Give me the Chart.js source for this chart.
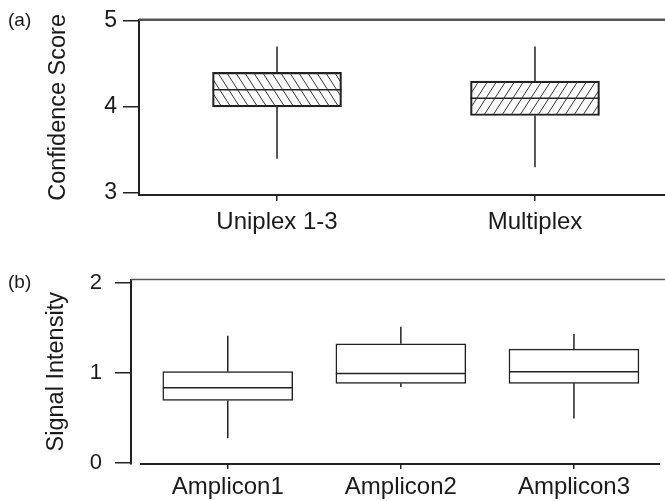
<!DOCTYPE html>
<html>
<head>
<meta charset="utf-8">
<script src="https://cdn.jsdelivr.net/npm/chart.js@4.4.1/dist/chart.umd.min.js"></script>
<style>
  html, body { margin: 0; padding: 0; background: #fff; overflow: hidden; }
  #wrap { position: relative; width: 665px; height: 501px; }
  canvas { position: absolute; left: 0; }
  .tag { position: absolute; font: 19px "Liberation Sans", Arial, sans-serif; line-height: 20px; color: #1a1a1a; }
</style>
</head>
<body>
<div id="wrap">
  <canvas id="chartA" width="665" height="250" style="top:0"></canvas>
  <canvas id="chartB" width="665" height="251" style="top:250px"></canvas>
  <div class="tag" style="left:8px;top:10px">(a)</div>
  <div class="tag" style="left:8px;top:272px">(b)</div>
</div>
<script>
// panel (a)
const panelACategories = ['Uniplex 1-3', 'Multiplex'];
const panelAMin    = [3.4, 3.3];
const panelAQ1     = [4.0, 3.9];
const panelAMedian = [4.2, 4.1];
const panelAQ3     = [4.4, 4.3];
const panelAMax    = [4.7, 4.7];
const panelATicks  = [3, 4, 5];

// panel (b)
const panelBCategories = ['Amplicon1', 'Amplicon2', 'Amplicon3'];
const panelBMin    = [0.27, 0.84, 0.49];
const panelBQ1     = [0.69, 0.88, 0.88];
const panelBMedian = [0.83, 0.99, 1.01];
const panelBQ3     = [1.01, 1.32, 1.26];
const panelBMax    = [1.41, 1.51, 1.43];
const panelBTicks  = [0, 1, 2];

const FONT = '"Liberation Sans", Arial, sans-serif';
const INK = '#222';
Chart.defaults.font.family = FONT;
Chart.defaults.color = '#1a1a1a';

const hatch = (dir) => {
	const w = 9, h = 14;
	const c = document.createElement('canvas');
	c.width = w; c.height = h;
	const g = c.getContext('2d');
	g.strokeStyle = '#333';
	g.lineWidth = 1;
	g.beginPath();
	if (dir === 'back') {
		g.moveTo(0, 0); g.lineTo(w, h);
		g.moveTo(-w, 0); g.lineTo(0, h);
		g.moveTo(w, 0); g.lineTo(2 * w, h);
	} else {
		g.moveTo(w, 0); g.lineTo(0, h);
		g.moveTo(2 * w, 0); g.lineTo(w, h);
		g.moveTo(0, 0); g.lineTo(-w, h);
	}
	g.stroke();
	return g.createPattern(c, 'repeat');
};

// whiskers, medians and the frame lines
const boxPlot = {
	id: 'boxPlot',
	afterDatasetsDraw(chart, args, opts) {
		const {ctx, chartArea, scales: {x, y}} = chart;
		const meta = chart.getDatasetMeta(0);
		ctx.save();
		ctx.strokeStyle = INK;
		ctx.lineWidth = 1.5;
		meta.data.forEach((bar, i) => {
			const cx = bar.x, half = bar.width / 2;
			ctx.beginPath();
			ctx.moveTo(cx, y.getPixelForValue(opts.max[i]));
			ctx.lineTo(cx, y.getPixelForValue(opts.q3[i]));
			ctx.moveTo(cx, y.getPixelForValue(opts.q1[i]));
			ctx.lineTo(cx, y.getPixelForValue(opts.min[i]));
			const my = y.getPixelForValue(opts.median[i]);
			ctx.moveTo(cx - half, my);
			ctx.lineTo(cx + half, my);
			ctx.stroke();
		});
		ctx.strokeStyle = '#555';
		ctx.lineWidth = opts.topWidth;
		ctx.beginPath();
		ctx.moveTo(chartArea.left, chartArea.top);
		ctx.lineTo(chartArea.right, chartArea.top);
		ctx.stroke();
		if (opts.bottomFrom) {
			ctx.strokeStyle = INK;
			ctx.lineWidth = 2;
			ctx.beginPath();
			ctx.moveTo(opts.bottomFrom, chartArea.bottom);
			ctx.lineTo(opts.bottomTo, chartArea.bottom);
			ctx.stroke();
		}
		ctx.restore();
	}
};

const makeChart = (el, p) => new Chart(el, {
	type: 'bar',
	data: {
		datasets: [{
			data: p.q1.map((v, i) => ({x: i + 1, y: [v, p.q3[i]]})),
			backgroundColor: p.fills,
			borderColor: INK,
			borderWidth: 1.5,
			borderSkipped: false,
			barThickness: p.boxWidth,
		}]
	},
	options: {
		responsive: false,
		animation: false,
		layout: {padding: {top: p.padTop, left: 0, right: 0, bottom: 0}},
		plugins: {
			legend: {display: false},
			tooltip: {enabled: false},
			boxPlot: p,
		},
		scales: {
			x: {
				type: 'linear',
				offset: false,
				min: p.xMin, max: p.xMax,
				afterBuildTicks: s => { s.ticks = p.categories.map((c, i) => ({value: i + 1})); },
				afterFit: s => { s.height = p.xHeight; },
				ticks: {
					autoSkip: false, maxRotation: 0,
					padding: p.xPad,
					font: {size: 24},
					callback: v => p.categories[v - 1],
				},
				grid: {offset: false, drawOnChartArea: false, tickLength: p.xTick, color: INK, lineWidth: 1.5},
				border: {display: !p.bottomFrom, color: INK, width: 2},
			},
			y: {
				min: p.yMin, max: p.yMax,
				afterBuildTicks: s => { s.ticks = p.yTicks.map(v => ({value: v})); },
				afterFit: s => { s.width = p.yWidth; },
				ticks: {padding: p.yPad, font: {size: p.yFont}, callback: v => String(v)},
				grid: {drawOnChartArea: false, tickLength: 16, color: INK, lineWidth: 1.5},
				border: {color: INK, width: 2},
				title: {
					display: true, text: p.title,
					font: {size: p.titleFont}, color: '#1a1a1a',
					padding: {top: p.titlePad, bottom: 0},
				},
			},
		},
	},
	plugins: [boxPlot],
});

makeChart(document.getElementById('chartA'), {
	categories: panelACategories,
	min: panelAMin, q1: panelAQ1, median: panelAMedian, q3: panelAQ3, max: panelAMax,
	yTicks: panelATicks,
	fills: [hatch('back'), hatch('fwd')],
	boxWidth: 129,
	xMin: 0.465, xMax: 2.504, yMin: 2.978, yMax: 5.011,
	padTop: 13.5, xHeight: 55, yWidth: 139,
	xPad: 7, xTick: 6, yPad: 6, yFont: 23,
	title: 'Confidence Score', titleFont: 23.5, titlePad: 44,
	topWidth: 2.5,
});

makeChart(document.getElementById('chartB'), {
	categories: panelBCategories,
	min: panelBMin, q1: panelBQ1, median: panelBMedian, q3: panelBQ3, max: panelBMax,
	yTicks: panelBTicks,
	fills: ['#fff', '#fff', '#fff'],
	boxWidth: 130,
	xMin: 0.441, xMax: 3.526, yMin: -0.017, yMax: 2.035,
	padTop: 29.5, xHeight: 37, yWidth: 131,
	xPad: 4, xTick: 5, yPad: 13, yFont: 22,
	title: 'Signal Intensity', titleFont: 23.5, titlePad: 42,
	topWidth: 1.5,
	bottomFrom: 140, bottomTo: 660,
});
</script>
</body>
</html>
